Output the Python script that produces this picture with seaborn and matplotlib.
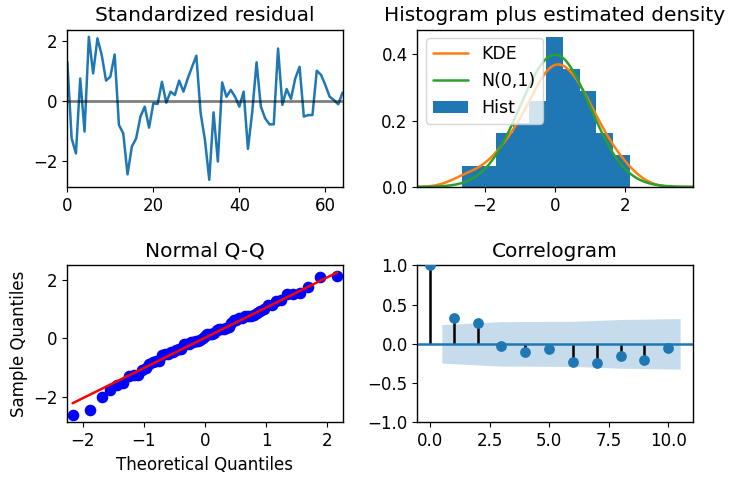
import numpy as np
import pandas as pd
import matplotlib
matplotlib.use('Agg')
import matplotlib.pyplot as plt
import seaborn as sns
from statistics import NormalDist

# 标准化残差
residuals = [1.30, -1.26, -1.76, 0.74, -1.03, 2.13, 0.91, 2.08, 1.52, 0.67,
             0.80, 1.54, -0.81, -1.09, -2.46, -1.53, -1.26, -0.53, -0.20, -0.90,
             -0.09, -0.11, 0.63, -0.07, 0.30, 0.19, 0.67, 0.30, 0.74, 1.13,
             1.50, -0.42, -1.31, -2.64, -0.39, -2.03, 0.61, 0.13, 0.36, 0.13,
             -0.20, 0.30, -1.61, -0.37, 1.28, -0.20, -0.59, -0.79, -0.79, 1.74,
             -0.14, 0.39, 0.06, 0.74, 1.13, -0.53, -0.48, -0.48, 1.00, 0.86,
             0.52, 0.13, 0.02, -0.12, 0.27]

# 自相关 (lags 0..10)
acf_lags = list(range(11))
acf_values = [1.0, 0.33, 0.27, -0.025, -0.10, -0.07, -0.23, -0.245, -0.155, -0.21, -0.055]
# 置信区间半宽 (lags 1..10)
conf_half = [0.245, 0.268, 0.283, 0.284, 0.286, 0.287, 0.298, 0.310, 0.314, 0.322]

sns.set_style('ticks')
plt.rcParams['font.family'] = ['DejaVu Sans']
plt.rcParams['font.size'] = 12
plt.rcParams['axes.titlesize'] = 14.5
plt.rcParams['axes.labelsize'] = 12
plt.rcParams['axes.edgecolor'] = 'black'
plt.rcParams['text.color'] = 'black'
plt.rcParams['axes.labelcolor'] = 'black'
plt.rcParams['xtick.color'] = 'black'
plt.rcParams['ytick.color'] = 'black'
plt.rcParams['xtick.labelsize'] = 12
plt.rcParams['ytick.labelsize'] = 12
plt.rcParams['axes.linewidth'] = 1.0

fig, axes = plt.subplots(2, 2, figsize=(7.4, 4.79), dpi=100)
fig.subplots_adjust(left=0.091, right=0.936, top=0.938, bottom=0.118,
                    wspace=0.272, hspace=0.498)

resid = np.array(residuals)
n = len(resid)
df = pd.DataFrame({'t': np.arange(n), 'resid': resid})

# 左上: 标准化残差
ax = axes[0, 0]
sns.lineplot(data=df, x='t', y='resid', ax=ax, color='C0', lw=1.8)
ax.hlines(0, 0, n - 1, color='k', alpha=0.5, lw=2)
ax.set_xlim(0, n - 1)
ax.set_xlabel('')
ax.set_ylabel('')
ax.set_title('Standardized residual')

# 右上: 直方图 + 密度
ax = axes[0, 1]
sns.histplot(x=resid, bins=10, stat='density', color='C0', alpha=1,
             linewidth=0, ax=ax, label='Hist')
sns.kdeplot(x=resid, ax=ax, color='C1', lw=1.8, cut=4, gridsize=300, label='KDE')
xs = np.linspace(-1.96 * 2, 1.96 * 2, 200)
nd = NormalDist()
sns.lineplot(x=xs, y=[nd.pdf(v) for v in xs], ax=ax, color='C2', lw=1.8, label='N(0,1)')
ax.set_xlim(-1.96 * 2, 1.96 * 2)
ax.set_ylabel('')
ax.set_title('Histogram plus estimated density')
handles, labels = ax.get_legend_handles_labels()
hmap = dict(zip(labels, handles))
order = ['KDE', 'N(0,1)', 'Hist']
ax.legend([hmap[k] for k in order], order, loc='upper left', fontsize=12.5)

# 左下: Q-Q 图
ax = axes[1, 0]
sample_q = np.sort(resid)
theo_q = np.array([nd.inv_cdf(i / (n + 1)) for i in range(1, n + 1)])
sns.scatterplot(x=theo_q, y=sample_q, ax=ax, color='#0000ff', s=70,
                linewidth=0, zorder=2)
sns.lineplot(x=theo_q, y=theo_q * resid.std() + resid.mean(), ax=ax,
             color='red', lw=1.8, zorder=3)
ax.set_xmargin(0.02)
ax.autoscale_view()
ax.set_xlabel('Theoretical Quantiles')
ax.set_ylabel('Sample Quantiles')
ax.set_title('Normal Q-Q')

# 右下: 自相关图
ax = axes[1, 1]
band_x = np.array(acf_lags[1:], dtype=float)
band_x[0] -= 0.5
band_x[-1] += 0.5
ax.fill_between(band_x, -np.array(conf_half), np.array(conf_half),
                color='C0', alpha=0.25, linewidth=0)
ax.vlines(acf_lags, 0, acf_values, colors='k', lw=1.8)
ax.axhline(0, color='C0', lw=1.8)
sns.scatterplot(x=acf_lags, y=acf_values, ax=ax, color='C0', s=60,
                linewidth=0, zorder=3)
ax.set_ylim(-1, 1)
ax.set_yticks([-1.0, -0.5, 0.0, 0.5, 1.0])
ax.set_xticks([0.0, 2.5, 5.0, 7.5, 10.0])
ax.set_title('Correlogram')

plt.savefig('out.png', dpi=100)
